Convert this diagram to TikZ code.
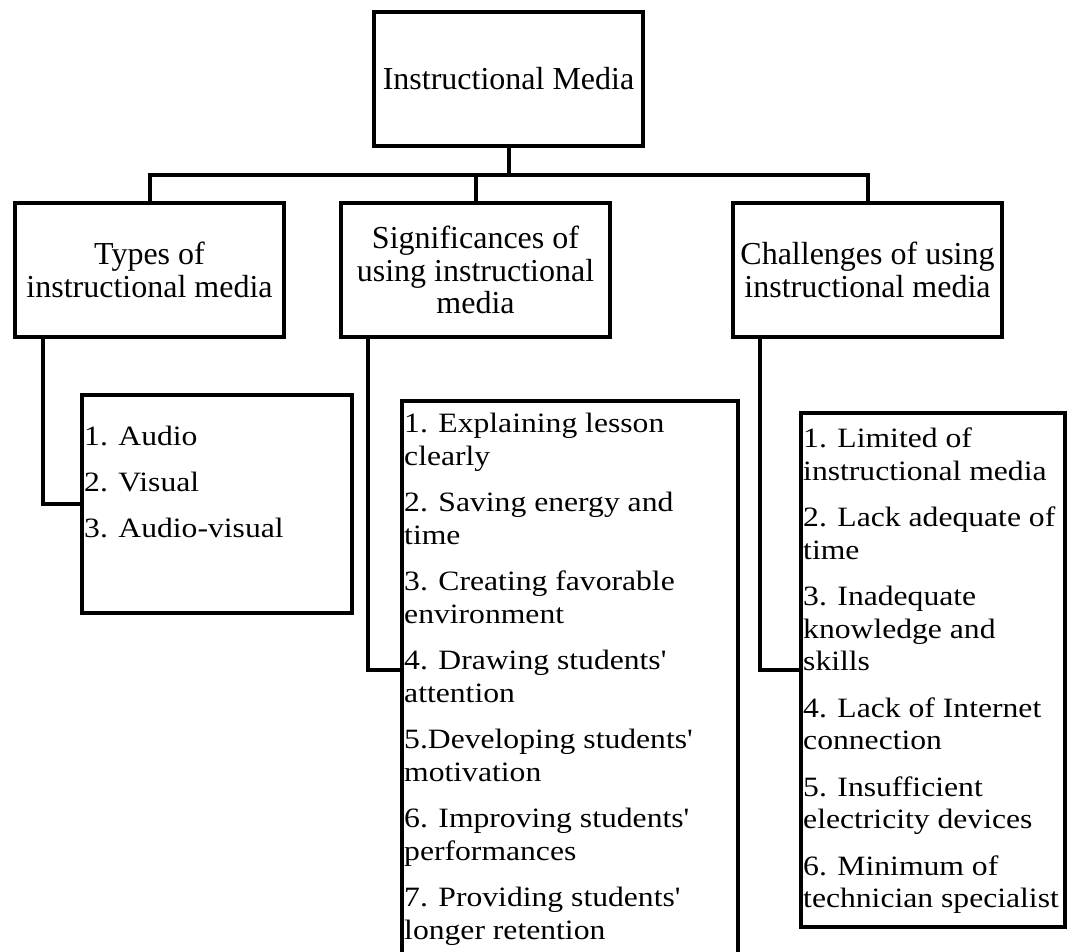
\documentclass[tikz,border=0pt]{standalone}
\usepackage{fontspec}
\setmainfont{Liberation Serif}
\newfontfamily\listfont[FakeStretch=1.13]{Liberation Serif}

\tikzset{
  headbox/.style={draw, line width=4pt, outer sep=0pt, inner sep=0pt,
    minimum width=269pt, minimum height=134pt, align=center,
    font=\fontsize{32}{32.5}\selectfont},
  listbox/.style={draw, line width=4pt, outer sep=0pt, inner sep=0pt, anchor=north west},
  listtext/.style={anchor=north west, align=left, inner sep=0pt,
    font=\listfont\fontsize{28}{32.5}\selectfont},
  link/.style={line width=4pt}
}

\begin{document}
\begin{tikzpicture}[x=1pt, y=1pt]
\useasboundingbox (0,0) rectangle (1068,-951);

% headings
\node[headbox] (media) at (508.5,-79) {Instructional Media};
\node[headbox] (types) at (149.5,-270) {Types of\\instructional media};
\node[headbox] (signif) at (475.5,-270) {Significances of\\using instructional\\media};
\node[headbox] (chall) at (867.5,-270) {Challenges of using\\instructional media};

% lists
\node[listbox, minimum width=270pt, minimum height=218pt] (typesbox) at (82,-395) {};
\node[listbox, minimum width=336pt, minimum height=560pt] (signifbox) at (402,-401) {};
\node[listbox, minimum width=264pt, minimum height=514pt] (challbox) at (801,-413) {};

\node[listtext] (typesitems) at ([shift={(2,-31)}]typesbox.north west)
  {1. Audio\\[13.5pt]2. Visual\\[13.5pt]3. Audio-visual};
\node[listtext] (signifitems) at ([shift={(2,-12)}]signifbox.north west)
  {1. Explaining lesson\\clearly\\[14pt]
   2. Saving energy and\\time\\[14pt]
   3. Creating favorable\\environment\\[14pt]
   4. Drawing students\textquotesingle\\attention\\[14pt]
   5.Developing students\textquotesingle\\motivation\\[14pt]
   6. Improving students\textquotesingle\\performances\\[14pt]
   7. Providing students\textquotesingle\\longer retention};
\node[listtext] (challitems) at ([shift={(2,-15)}]challbox.north west)
  {1. Limited of\\instructional media\\[14pt]
   2. Lack adequate of\\time\\[14pt]
   3. Inadequate\\knowledge and\\skills\\[14pt]
   4. Lack of Internet\\connection\\[14pt]
   5. Insufficient\\electricity devices\\[14pt]
   6. Minimum of\\technician specialist};

% connectors
\coordinate (bar) at (0,-175);
\draw[link] (media.south) -- (media.south |- bar);
\draw[link] (types.north) -- (types.north |- bar) -- (chall.north |- bar) -- (chall.north);
\draw[link] (signif.north) -- (signif.north |- bar);
\draw[link] ([xshift=28pt]types.south west) |- (typesbox.west);
\draw[link] ([xshift=27pt]signif.south west) |- (signifbox.west |- 0,-670);
\draw[link] ([xshift=27pt]chall.south west) |- (challbox.west);
\end{tikzpicture}
\end{document}
